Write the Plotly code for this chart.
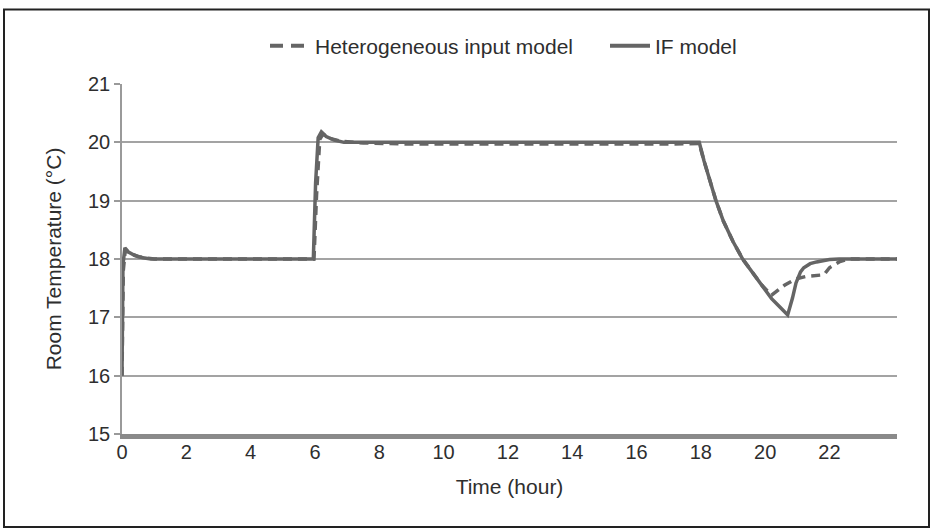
import plotly.graph_objects as go

# ---- data ----
if_time = [0, 0.03, 0.09, 0.2, 0.4, 0.65, 0.9, 5.95, 6.02, 6.1, 6.2, 6.35, 6.6, 6.9, 8.0, 17.95,
           18.1, 18.3, 18.47, 18.7, 19.0, 19.3, 19.6, 19.9, 20.2, 20.45, 20.7,
           20.85, 20.96, 21.1, 21.2, 21.4, 21.6, 22.0, 22.3, 24.1]
if_temp = [16.0, 17.9, 18.19, 18.12, 18.06, 18.02, 18.0, 18.0, 19.3, 20.08, 20.18, 20.1, 20.04, 20.0, 20.0, 20.0,
           19.68, 19.32, 19.0, 18.65, 18.3, 18.0, 17.78, 17.55, 17.32, 17.18, 17.04,
           17.33, 17.59, 17.78, 17.85, 17.92, 17.95, 17.99, 18.0, 18.0]

het_time = [0, 0.04, 0.1, 0.25, 0.5, 0.8, 1.0, 5.97, 6.05, 6.15, 6.25, 6.45, 6.8, 7.5, 9.0, 17.0, 17.95,
            18.1, 18.3, 18.47, 18.7, 19.0, 19.3, 19.6, 19.9, 20.2,
            20.6, 20.96, 21.27, 21.83, 22.0, 22.3, 22.6, 24.1]
het_temp = [16.0, 17.8, 18.15, 18.1, 18.04, 18.01, 18.0, 18.0, 19.1, 20.05, 20.14, 20.07, 20.02, 19.99, 19.97, 19.97, 19.98,
            19.68, 19.32, 19.0, 18.65, 18.3, 18.0, 17.78, 17.55, 17.38,
            17.55, 17.66, 17.70, 17.73, 17.85, 17.95, 18.0, 18.0]

series_names = ["Heterogeneous input model", "IF model"]
x_ticks = [0, 2, 4, 6, 8, 10, 12, 14, 16, 18, 20, 22]
y_ticks = [15, 16, 17, 18, 19, 20, 21]

# ---- layout geometry (pixels) ----
W, H = 930, 528
ML, MR, MT, MB = 122, 33, 84, 94
PW, PH = W - ML - MR, H - MT - MB

def px_x(px):
    return (px - ML) / PW

def px_y(py):
    return (H - MB - py) / PH

LINE_COLOR = "#656565"
TEXT_COLOR = "#2e2e2e"
FONT = "Liberation Sans, Arial, sans-serif"

fig = go.Figure()
# data traces
fig.add_trace(go.Scatter(
    x=het_time, y=het_temp, mode="lines", name=series_names[0], showlegend=False,
    line=dict(color=LINE_COLOR, width=3.5, dash="9px,6px"),
))
fig.add_trace(go.Scatter(
    x=if_time, y=if_temp, mode="lines", name=series_names[1], showlegend=False,
    line=dict(color=LINE_COLOR, width=3.5),
))
# legend entries (legend-only proxies with the legend's own dash look)
fig.add_trace(go.Scatter(
    x=[None], y=[None], mode="lines", name=series_names[0], legend="legend",
    line=dict(color=LINE_COLOR, width=4, dash="13px,8px"),
))
fig.add_trace(go.Scatter(
    x=[None], y=[None], mode="lines", name=series_names[1], legend="legend2",
    line=dict(color=LINE_COLOR, width=4),
))

legend_common = dict(orientation="h", xanchor="left", y=px_y(46), yanchor="middle",
                     font=dict(size=21), bgcolor="rgba(0,0,0,0)", itemwidth=40)

fig.update_layout(
    width=W, height=H,
    margin=dict(l=ML, r=MR, t=MT, b=MB),
    paper_bgcolor="white", plot_bgcolor="white",
    font=dict(family=FONT, size=20, color=TEXT_COLOR),
    legend=dict(x=px_x(265), **legend_common),
    legend2=dict(x=px_x(605), **legend_common),
    showlegend=True,
    shapes=[dict(type="rect", xref="paper", yref="paper",
                 x0=px_x(4), x1=px_x(929), y0=px_y(527), y1=px_y(9.5),
                 line=dict(color="#222", width=2), fillcolor="rgba(0,0,0,0)", layer="below")],
)

fig.update_xaxes(
    range=[0, 24.1], tickvals=x_ticks, ticktext=[str(v) for v in x_ticks],
    showgrid=False, zeroline=False,
    showline=True, linecolor="#8a8a8a", linewidth=5,
    ticks="", tickfont=dict(size=20), ticklabelstandoff=-4,
    title=dict(text="Time (hour)", font=dict(size=21), standoff=19),
)
fig.update_yaxes(
    range=[15, 21], tickvals=y_ticks, ticktext=[str(v) for v in y_ticks],
    showgrid=True, gridcolor="#a3a3a3", gridwidth=1.5, zeroline=False,
    showline=True, linecolor="#9a9a9a", linewidth=1.5,
    ticks="outside", ticklen=6, tickcolor="#9a9a9a", tickwidth=1.5,
    tickfont=dict(size=20),
    title=dict(text="Room Temperature (°C)", font=dict(size=21), standoff=21),
)

fig.write_html("out.html", config={"displayModeBar": False},
               post_script="document.body.style.margin='0px';document.body.style.overflow='hidden';")
